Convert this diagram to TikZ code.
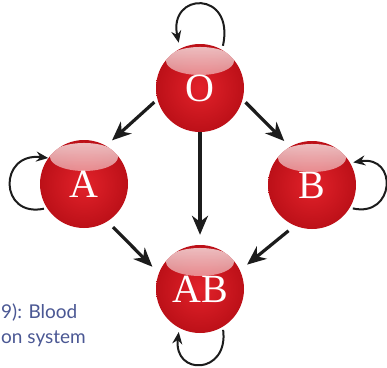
\documentclass[tikz,border=0pt]{standalone}
\usepackage{fontspec}
\usetikzlibrary{arrows.meta,fadings}
\newfontfamily\letterfont{Liberation Serif}
\newfontfamily\captionfont{Lato}
\definecolor{bloodRed}{HTML}{E2222A}
\definecolor{bloodDark}{HTML}{BC1018}
\definecolor{captionBlue}{HTML}{4B5894}
\definecolor{arrowBlack}{HTML}{1C1C1C}

\begin{document}
\begin{tikzpicture}[x=1pt,y=-1pt]
      \tikzstyle{ball}=[circle,minimum size=88pt,inner sep=0pt,text=white,
                        font=\letterfont\fontsize{40}{40}\selectfont,
                        inner color=bloodRed,outer color=bloodDark,
                        path picture={\fill[white,opacity=0.75,path fading=south]
                          ([yshift=-17pt]path picture bounding box.north) ellipse [x radius=34pt,y radius=14pt];}]
      \tikzstyle{flow}=[draw=arrowBlack,line width=3.2pt,-{Stealth[length=19pt,width=16pt,inset=6pt]}]
      \tikzstyle{selfloop}=[draw=arrowBlack,line width=2pt,-{Stealth[length=12pt,width=10pt,inset=4pt]}]
      \tikzstyle{caption}=[font=\captionfont\fontsize{19}{19}\selectfont,text=captionBlue,inner sep=0pt]

      \path[fill=white,use as bounding box] (0,0) rectangle (387,367);

      \node[ball] (o) at (200,88) {O};
      \node[ball] (a) at (84,184) {A};
      \node[ball] (b) at (312,185) {B};
      \node[ball] (ab) at (200,289) {AB};

      \draw[flow,shorten <=4pt,shorten >=8pt] (o.195) -- (a.60);
      \draw[flow,shorten <=4pt,shorten >=8pt] (o.345) -- (b.120);
      \draw[flow,shorten >=10pt] (o.south) -- (ab.north);
      \draw[flow,shorten <=8pt,shorten >=9pt] (a.302) -- (ab.159);
      \draw[flow,shorten <=8pt,shorten >=9pt] (b.247) -- (ab.25);

      \draw[selfloop,shorten <=4pt,shorten >=6pt] (o.60) .. controls +(13,-60) and +(-12,-57) .. (o.117);
      \draw[selfloop,shorten <=3pt] (a.213) .. controls +(-48,10) and +(-50,-6) .. (a.144);
      \draw[selfloop,shorten <=3pt,shorten >=3pt] (b.-31) .. controls +(45,10) and +(48,-8) .. (b.30);
      \draw[selfloop,shorten <=3pt,shorten >=4pt] (ab.301) .. controls +(6,48) and +(-6,48) .. (ab.242);

      \node[caption,anchor=base west] (capA) at (1,318) {9): Blood};
      \node[caption,anchor=base west] (capB) at (1,343) {on system};
\end{tikzpicture}
\end{document}
